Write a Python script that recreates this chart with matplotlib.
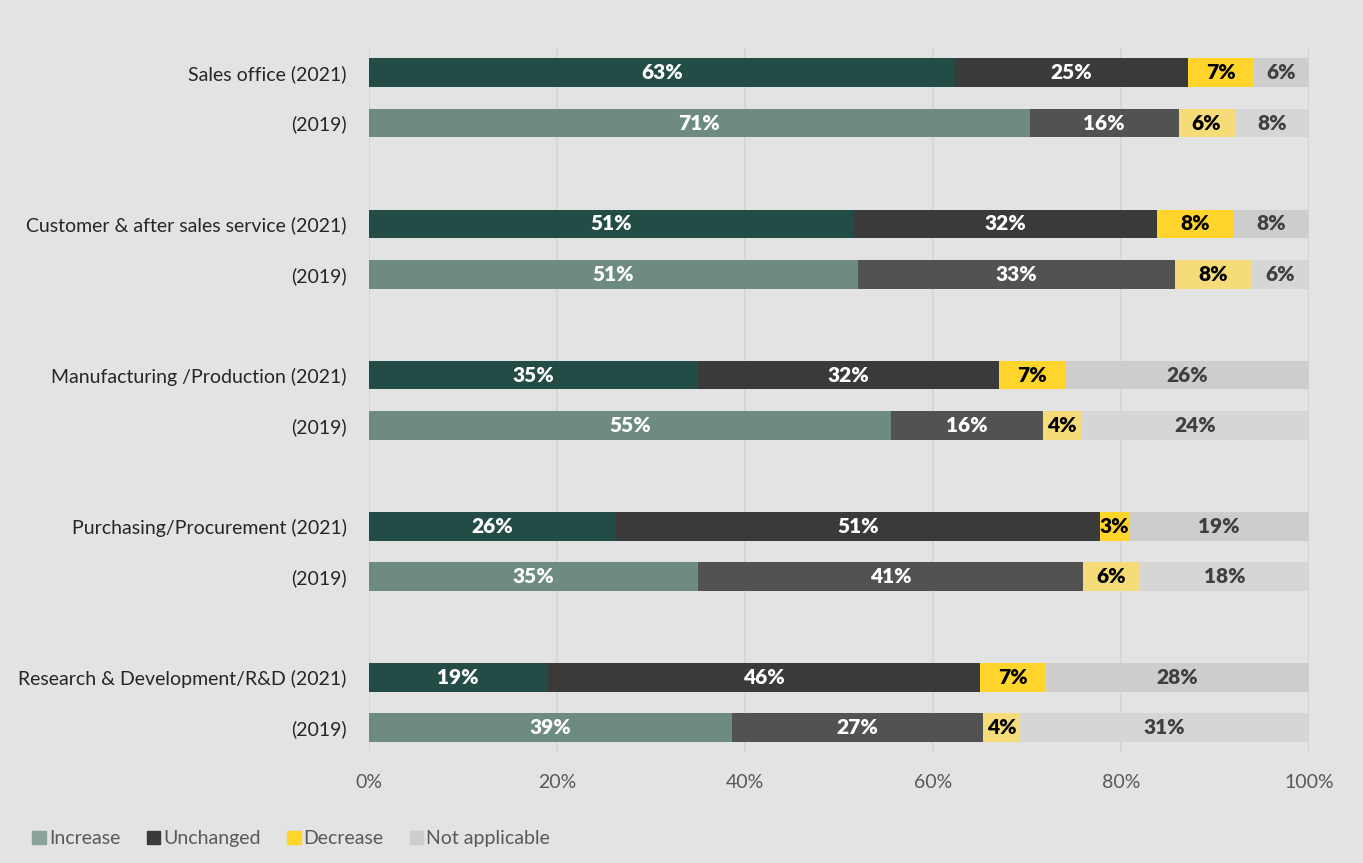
import matplotlib.pyplot as plt
import numpy as np

plt.rcParams['font.family'] = ['Lato', 'DejaVu Sans']

row_labels = ['Sales office (2021)', '(2019)',
              'Customer & after sales service (2021)', '(2019)',
              'Manufacturing /Production (2021)', '(2019)',
              'Purchasing/Procurement (2021)', '(2019)',
              'Research & Development/R&D (2021)', '(2019)']
series = ['Increase', 'Unchanged', 'Decrease', 'Not applicable']

increase = [63, 71, 51, 51, 35, 55, 26, 35, 19, 39]
unchanged = [25, 16, 32, 33, 32, 16, 51, 41, 46, 27]
decrease = [7, 6, 8, 8, 7, 4, 3, 6, 7, 4]
not_applicable = [6, 8, 8, 6, 26, 24, 19, 18, 28, 31]

# colours: (2021 bar, 2019 bar, legend swatch)
colors = {
    'Increase': ('#244C46', '#6D8A83', '#8AA398'),
    'Unchanged': ('#3A3A3A', '#525252', '#3A3A3A'),
    'Decrease': ('#FFD52B', '#F5DC78', '#FFD52B'),
    'Not applicable': ('#CDCDCD', '#D6D6D6', '#CDCDCD'),
}
text_colors = {'Increase': 'white', 'Unchanged': 'white',
               'Decrease': 'black', 'Not applicable': '#404040'}

values = np.array([increase, unchanged, decrease, not_applicable], dtype=float)
shares = values / values.sum(axis=0) * 100

ypos = np.array([g * 3 + k for g in range(5) for k in (0, 1)], dtype=float)

bg = '#E3E3E3'
fig = plt.figure(figsize=(13.63, 8.63), dpi=100, facecolor=bg)
ax = fig.add_axes([0.2707, 0.1286, 0.6897, 0.8158], facecolor=bg)

left = np.zeros(len(ypos))
for i, name in enumerate(series):
    c21, c19, _ = colors[name]
    cols = [c21 if k % 2 == 0 else c19 for k in range(len(ypos))]
    ax.barh(ypos, shares[i], left=left, height=0.57, color=cols, zorder=3)
    for k in range(len(ypos)):
        ax.text(left[k] + shares[i][k] / 2, ypos[k], f'{int(values[i][k])}%',
                ha='center', va='center', fontsize=15, fontweight='heavy',
                color=text_colors[name], zorder=4)
    left += shares[i]

ax.set_xlim(0, 100)
ax.set_ylim(13.48, -0.49)
ax.set_xticks(np.arange(0, 101, 20))
ax.set_xticklabels([f'{v}%' for v in range(0, 101, 20)])
ax.set_yticks(ypos)
ax.set_yticklabels(row_labels)
ax.tick_params(length=0, labelsize=14, colors='#595959')
ax.tick_params(axis='y', colors='#262626', pad=16)
ax.tick_params(axis='x', pad=16)
ax.grid(axis='x', color='#D4D4D4', linewidth=1.2, zorder=0)
for s in ax.spines.values():
    s.set_visible(False)

handles = [plt.Rectangle((0, 0), 1, 1, color=colors[n][2]) for n in series]
fig.legend(handles, series, loc='lower left', bbox_to_anchor=(0.011, -0.002),
           ncol=4, frameon=False, fontsize=14, handlelength=0.7, handleheight=0.7,
           handletextpad=0.15, columnspacing=1.35, labelcolor='#595959')

fig.savefig('out.png', facecolor=bg)
